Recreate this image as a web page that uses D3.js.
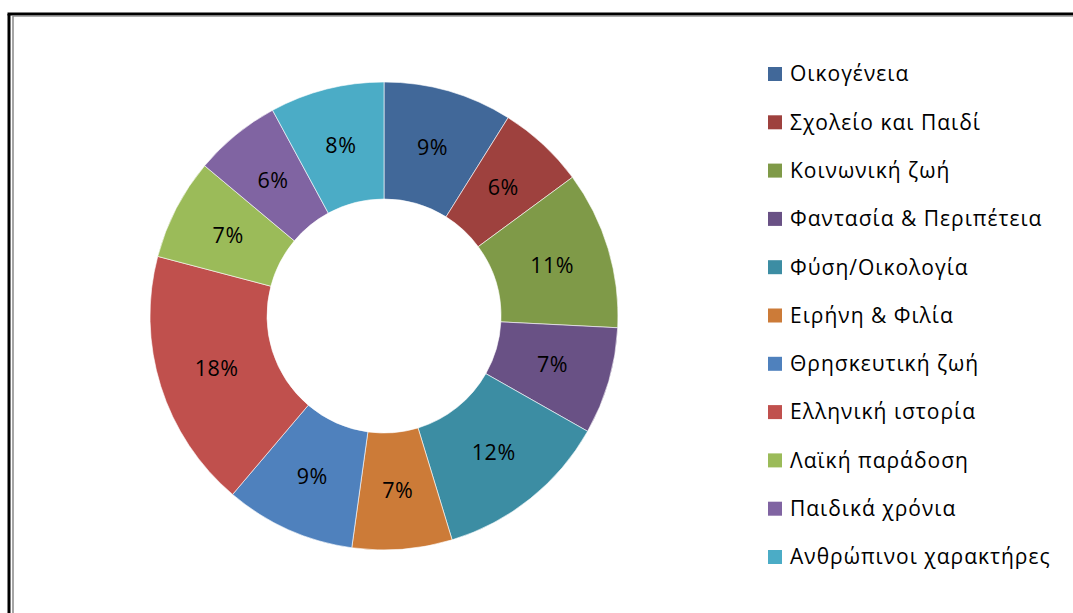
<!DOCTYPE html>
<html>
<head>
<meta charset="utf-8">
<script src="https://cdn.jsdelivr.net/npm/d3@7"></script>
<style>
  body { margin: 0; background: #fff; }
  svg { display: block; }
  text { font-family: "Open Sans", "Noto Sans", sans-serif; }
</style>
</head>
<body>
<svg id="chart" width="1073" height="613"></svg>
<script>
// categories (legend order = slice order, clockwise from 12 o'clock)
var categories = [
  "Οικογένεια",
  "Σχολείο και Παιδί",
  "Κοινωνική ζωή",
  "Φαντασία & Περιπέτεια",
  "Φύση/Οικολογία",
  "Ειρήνη & Φιλία",
  "Θρησκευτική ζωή",
  "Ελληνική ιστορία",
  "Λαϊκή παράδοση",
  "Παιδικά χρόνια",
  "Ανθρώπινοι χαρακτήρες"
];
// share of each theme, in percent
var values = [8.9, 6.0, 10.9, 7.4, 12.1, 6.9, 9.0, 17.9, 7.0, 6.0, 7.9];
var colors = [
  "#416899", "#9E413E", "#7F9A48", "#695185", "#3C8DA3", "#CC7B38",
  "#4F81BD", "#C0504D", "#9BBB59", "#8064A2", "#4BACC6"
];

var svg = d3.select("#chart");

// frame (double line on the left and top)
svg.append("line").attr("x1", 9).attr("y1", 14).attr("x2", 9).attr("y2", 613)
  .attr("stroke", "#000").attr("stroke-width", 3);
svg.append("line").attr("x1", 7.5).attr("y1", 14).attr("x2", 1073).attr("y2", 14)
  .attr("stroke", "#000").attr("stroke-width", 3);
svg.append("line").attr("x1", 13).attr("y1", 16).attr("x2", 13).attr("y2", 613)
  .attr("stroke", "#888").attr("stroke-width", 1.5);
svg.append("line").attr("x1", 13).attr("y1", 16.2).attr("x2", 1073).attr("y2", 16.2)
  .attr("stroke", "#888").attr("stroke-width", 1);

var cx = 384, cy = 316, outerR = 234, innerR = 117;

var pie = d3.pie().sort(null).value(function(d){ return d; });
var arc = d3.arc().innerRadius(innerR).outerRadius(outerR);
var color = d3.scaleOrdinal().domain(categories).range(colors);

var arcs = pie(values);
var g = svg.append("g").attr("transform", "translate(" + cx + "," + cy + ")");

g.selectAll("path.slice")
  .data(arcs)
  .enter().append("path")
  .attr("class", "slice")
  .attr("d", arc)
  .attr("fill", function(d, i){ return color(categories[i]); })
  .attr("stroke", "#fff")
  .attr("stroke-width", 0.6);

g.selectAll("text.lbl")
  .data(arcs)
  .enter().append("text")
  .attr("class", "lbl")
  .attr("transform", function(d){ return "translate(" + arc.centroid(d) + ")"; })
  .attr("text-anchor", "middle")
  .attr("dy", "0.35em")
  .attr("font-size", 21.5)
  .attr("letter-spacing", 0.5)
  .attr("fill", "#000")
  .text(function(d){ return Math.round(d.data) + "%"; });

// legend
var legendY = d3.scalePoint().domain(categories).range([74, 557]);
var legend = svg.append("g");
var items = legend.selectAll("g.item")
  .data(categories)
  .enter().append("g")
  .attr("class", "item")
  .attr("transform", function(d){ return "translate(768," + legendY(d) + ")"; });

items.append("rect")
  .attr("x", 0).attr("y", -7)
  .attr("width", 14).attr("height", 14)
  .attr("fill", function(d){ return color(d); });

items.append("text")
  .attr("x", 22)
  .attr("dy", "0.35em")
  .attr("font-size", 21)
  .attr("letter-spacing", 1)
  .attr("fill", "#000")
  .text(function(d){ return d; });
</script>
</body>
</html>
